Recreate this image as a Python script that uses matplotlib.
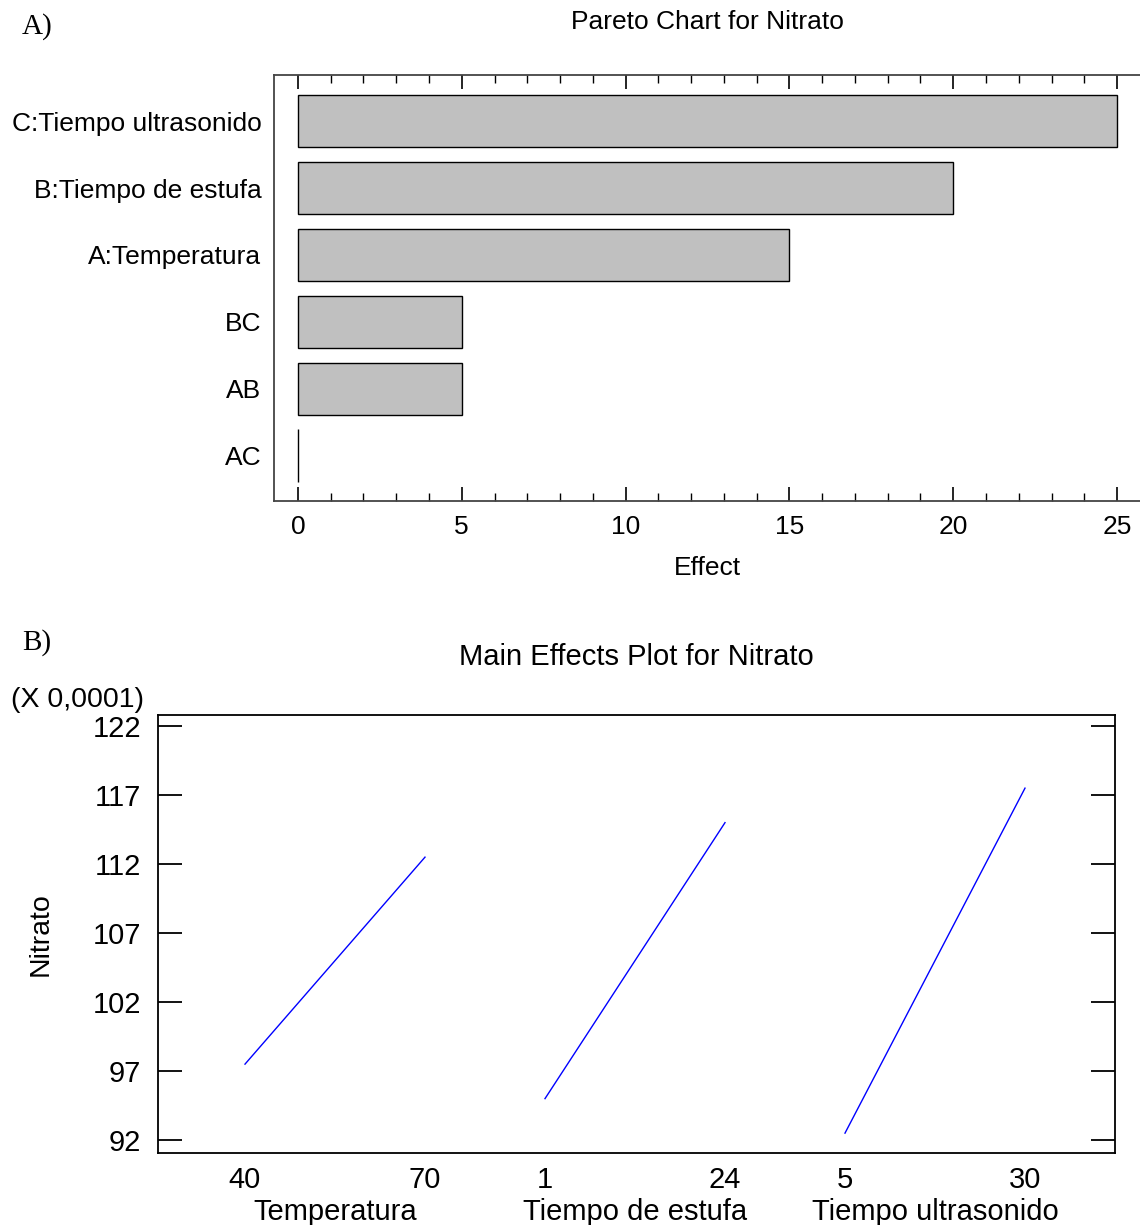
import numpy as np
import matplotlib.pyplot as plt
from matplotlib.ticker import MultipleLocator
from matplotlib.transforms import blended_transform_factory

plt.rcParams['font.family'] = ['Liberation Sans', 'DejaVu Sans']

# Pareto data (bottom to top)
factors = ["AC", "AB", "BC", "A:Temperatura", "B:Tiempo de estufa", "C:Tiempo ultrasonido"]
effects = [0, 5, 5, 15, 20, 25]

# main effects data (x 0,0001)
groups = ["Temperatura", "Tiempo de estufa", "Tiempo ultrasonido"]
levels = [["40", "70"], ["1", "24"], ["5", "30"]]
low_means = [97.5, 95.0, 92.5]
high_means = [112.5, 115.0, 117.5]
yticks = [92, 97, 102, 107, 112, 117, 122]

fig = plt.figure(figsize=(11.4, 12.25), dpi=100)

# ---------- A) Pareto chart ----------
ax1 = fig.add_axes([274/1140, 1-501/1225, 866/1140, 426/1225])
ypos = np.arange(len(factors))
ax1.barh(ypos, effects, height=0.78, color='#c0c0c0', edgecolor='black', linewidth=1.0)
ax1.set_xlim(-0.73, 25.7)
ax1.set_ylim(-0.68, 5.69)
ax1.set_yticks(ypos)
ax1.set_yticklabels(factors, fontsize=19)
ax1.tick_params(axis='y', length=0, pad=9)
ax1.xaxis.set_major_locator(MultipleLocator(5))
ax1.xaxis.set_minor_locator(MultipleLocator(1))
ax1.tick_params(axis='x', which='major', direction='in', length=10, width=1.2,
                top=True, labelsize=19, pad=10)
ax1.tick_params(axis='x', which='minor', direction='in', length=6, width=1.0, top=True)
ax1.spines['right'].set_visible(False)
for s in ['left', 'top', 'bottom']:
    ax1.spines[s].set_color('#444444')
    ax1.spines[s].set_linewidth(1.3)
ax1.set_xlabel("Effect", fontsize=19, labelpad=12)
ax1.set_title("Pareto Chart for Nitrato", fontsize=19, pad=33)

# ---------- B) Main effects plot ----------
ax2 = fig.add_axes([158/1140, 1-1153/1225, 957/1140, 438/1225])
xt = []
xl = []
for i, g in enumerate(groups):
    x0 = 5*i
    x1 = 5*i + 3
    ax2.plot([x0, x1], [low_means[i], high_means[i]], color='blue', lw=1.0)
    xt += [x0, x1]
    xl += levels[i]
ax2.set_xlim(-1.45, 14.5)
ax2.set_ylim(91.06, 122.8)
ax2.set_xticks(xt)
ax2.set_xticklabels(xl, fontsize=21)
ax2.tick_params(axis='x', length=0, pad=9)
ax2.set_yticks(yticks)
ax2.tick_params(axis='y', direction='in', length=17, width=1.3, right=True,
                labelsize=21, pad=12)
for s in ax2.spines.values():
    s.set_linewidth(1.3)
tr = blended_transform_factory(ax2.transData, ax2.transAxes)
for i, g in enumerate(groups):
    ax2.text(5*i + 1.5, -0.135, g, transform=tr, ha='center', va='center', fontsize=21)
ax2.set_ylabel("Nitrato", fontsize=20.5, labelpad=28)
ax2.set_title("Main Effects Plot for Nitrato", fontsize=21, pad=36)
ax2.text(-0.015, 1.035, "(X 0,0001)", transform=ax2.transAxes, ha='right', va='center',
         fontsize=20.5)

fig.text(22/1140, 1-27/1225, "A)", family='Liberation Serif', fontsize=21, va='center')
fig.text(22/1140, 1-643/1225, "B)", family='Liberation Serif', fontsize=21, va='center')

fig.savefig("out.png", dpi=100)
